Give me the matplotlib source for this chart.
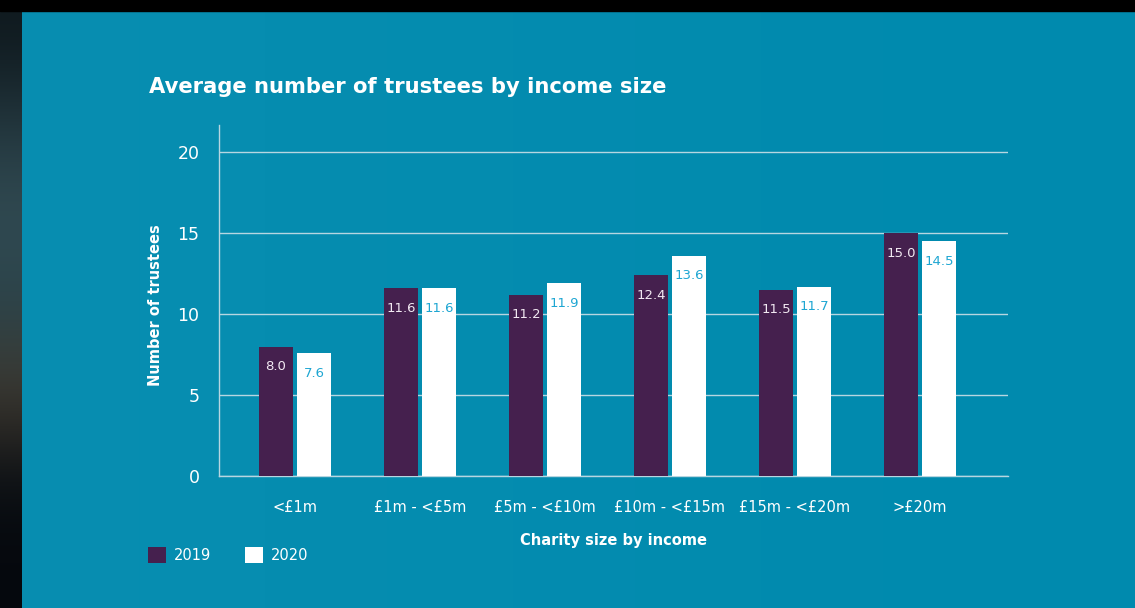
import numpy as np
import matplotlib.pyplot as plt
from matplotlib.patches import Rectangle

# average trustees per charity, by income band
categories = ["<£1m", "£1m - <£5m", "£5m - <£10m", "£10m - <£15m", "£15m - <£20m", ">£20m"]
trustees_2019 = [8.0, 11.6, 11.2, 12.4, 11.5, 15.0]
trustees_2020 = [7.6, 11.6, 11.9, 13.6, 11.7, 14.5]
y_ticks = [0, 5, 10, 15, 20]

PANEL = "#008aae"
PURPLE = "#45204e"
GRID = "#b7d6e1"
LABEL_2020 = "#1ea6d2"
FONT = "DejaVu Sans"

fig = plt.figure(figsize=(11.35, 6.08), dpi=100)
fig.patch.set_facecolor(PANEL)

# backdrop: dark photo strip on the left, black band on top, teal panel
bg = fig.add_axes([0, 0, 1, 1], zorder=-10)
bg.set_xlim(0, 1135)
bg.set_ylim(608, 0)
bg.axis("off")
strip = np.array([[0.06, 0.10, 0.12], [0.14, 0.22, 0.25], [0.20, 0.30, 0.33],
                  [0.16, 0.26, 0.29], [0.26, 0.23, 0.19], [0.04, 0.06, 0.08],
                  [0.02, 0.03, 0.05]])
bg.imshow(strip[:, None, :], extent=(0, 22, 608, 0), aspect="auto",
          interpolation="bicubic")
bg.add_patch(Rectangle((22, 11), 1113, 597, color=PANEL, zorder=-1))
shade = np.linspace(0.035, 0.0, 256)[None, :]
bg.imshow(np.dstack([np.ones((1, 256, 3)), shade]),
          extent=(22, 1135, 608, 11), aspect="auto")
bg.add_patch(Rectangle((0, 0), 1135, 11, color="black", zorder=2))

ax = fig.add_axes([0.193, 0.217, 0.695, 0.577])
ax.set_facecolor("none")

x = np.arange(len(categories))
width = 0.272
offset = 0.152
bars_19 = ax.bar(x - offset, trustees_2019, width, color=PURPLE, zorder=3, label="2019")
bars_20 = ax.bar(x + offset, trustees_2020, width, color="white", zorder=3, label="2020")

for bars, values, color in [(bars_19, trustees_2019, "#f2e9f2"),
                            (bars_20, trustees_2020, LABEL_2020)]:
    for bar, v in zip(bars, values):
        ax.annotate(f"{v:.1f}", (bar.get_x() + bar.get_width() / 2, v),
                    xytext=(0, -20), textcoords="offset pixels",
                    ha="center", va="center", color=color, fontsize=9.5,
                    family=FONT, zorder=4)

ax.set_xlim(-0.608, 5.704)
ax.set_ylim(0, 21.67)
ax.set_yticks(y_ticks)
ax.set_xticks(x)
ax.set_xticklabels(categories)
ax.yaxis.grid(True, color=GRID, linewidth=1.0, zorder=0)
ax.set_axisbelow(True)
ax.tick_params(axis="both", length=0, colors="white")
ax.tick_params(axis="y", labelsize=12.5, pad=14)
ax.tick_params(axis="x", labelsize=10.5, pad=17)
for lbl in ax.get_xticklabels() + ax.get_yticklabels():
    lbl.set_family(FONT)

for side in ["top", "right"]:
    ax.spines[side].set_visible(False)
for side in ["left", "bottom"]:
    ax.spines[side].set_color(GRID)
    ax.spines[side].set_linewidth(1.0)

fig.text(149 / 1135, 1 - 87 / 608, "Average number of trustees by income size",
         color="white", fontsize=15.2, fontweight="bold", family=FONT,
         ha="left", va="center")
fig.text(156 / 1135, 1 - 305 / 608, "Number of trustees", rotation=90,
         color="white", fontsize=10.5, fontweight="bold", family=FONT,
         ha="center", va="center")
fig.text(613 / 1135, 1 - 540 / 608, "Charity size by income",
         color="white", fontsize=10.5, fontweight="bold", family=FONT,
         ha="center", va="center")

fig.legend(handles=[bars_19, bars_20], labels=["2019", "2020"],
           loc="center left", bbox_to_anchor=(135 / 1135, 1 - 555 / 608),
           ncol=2, frameon=False, handlelength=1.24, handleheight=1.24,
           handletextpad=0.55, columnspacing=2.3,
           prop={"family": FONT, "size": 10.5}, labelcolor="white")

fig.savefig("out.png", dpi=100, facecolor=fig.get_facecolor())
